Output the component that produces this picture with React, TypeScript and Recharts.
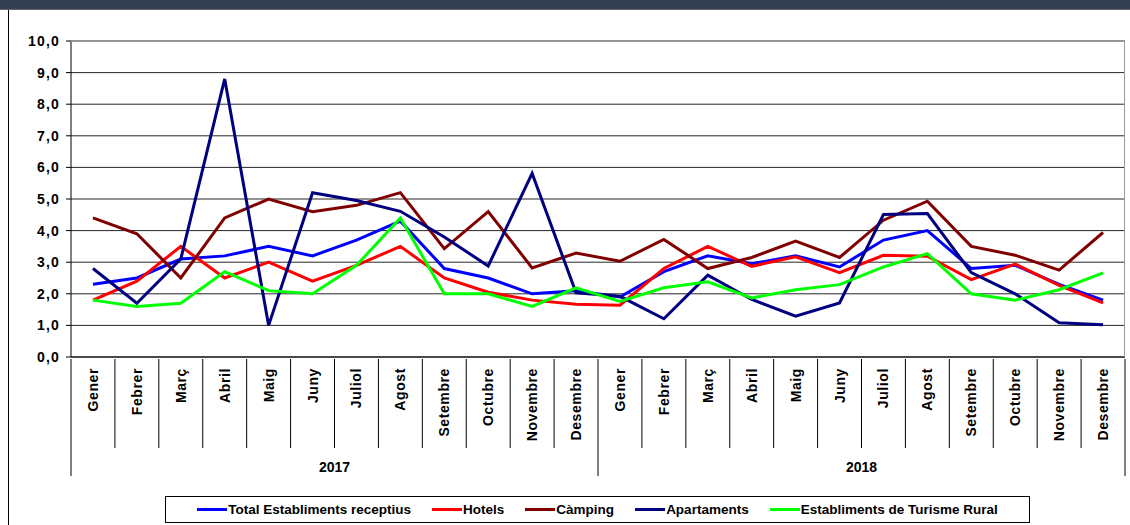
import { LineChart, Line, XAxis, YAxis, CartesianGrid } from "recharts"

const months = [
  "Gener", "Febrer", "Març", "Abril", "Maig", "Juny",
  "Juliol", "Agost", "Setembre", "Octubre", "Novembre", "Desembre",
]
const years = ["2017", "2018"]

const total = [2.3, 2.5, 3.1, 3.2, 3.5, 3.2, 3.7, 4.3, 2.8, 2.5, 2.0, 2.1, 1.9, 2.7, 3.2, 2.95, 3.2, 2.85, 3.7, 4.0, 2.8, 2.9, 2.3, 1.8]
const hotels = [1.8, 2.4, 3.5, 2.5, 3.0, 2.4, 2.9, 3.5, 2.5, 2.05, 1.8, 1.67, 1.64, 2.8, 3.5, 2.87, 3.17, 2.67, 3.22, 3.19, 2.45, 2.94, 2.27, 1.71]
const camping = [4.4, 3.9, 2.5, 4.4, 5.0, 4.6, 4.8, 5.2, 3.43, 4.6, 2.82, 3.29, 3.03, 3.72, 2.8, 3.15, 3.67, 3.15, 4.33, 4.93, 3.5, 3.22, 2.75, 3.94]
const apartaments = [2.8, 1.7, 3.1, 8.8, 1.0, 5.2, 4.95, 4.61, 3.8, 2.88, 5.81, 2.03, 1.92, 1.21, 2.59, 1.82, 1.29, 1.71, 4.51, 4.54, 2.67, 2.0, 1.08, 1.02]
const rural = [1.8, 1.6, 1.7, 2.7, 2.1, 2.0, 2.9, 4.4, 2.0, 2.0, 1.6, 2.19, 1.76, 2.19, 2.38, 1.87, 2.13, 2.29, 2.85, 3.27, 2.0, 1.8, 2.13, 2.66]

const yTicks = [0, 1, 2, 3, 4, 5, 6, 7, 8, 9, 10]

const series = [
  { key: "total", name: "Total Establiments receptius", color: "#0000FF", values: total },
  { key: "hotels", name: "Hotels", color: "#FF0000", values: hotels },
  { key: "camping", name: "Càmping", color: "#800000", values: camping },
  { key: "apart", name: "Apartaments", color: "#000080", values: apartaments },
  { key: "rural", name: "Establiments de Turisme Rural", color: "#00FF00", values: rural },
]

const data = years.flatMap((yr, yi) =>
  months.map((m, mi) => {
    const i = yi * months.length + mi
    const row: Record<string, string | number> = { key: `${yr}-${m}`, month: m, year: yr }
    series.forEach((s) => (row[s.key] = s.values[i]))
    return row
  })
)

const W = 1130
const H = 525
const PLOT_LEFT = 71
const PLOT_RIGHT = 1125
const PLOT_TOP = 41
const PLOT_BOTTOM = 357
const BAND = (PLOT_RIGHT - PLOT_LEFT) / data.length
const FONT = "'Liberation Sans', Arial, sans-serif"

function MonthTick(props: any) {
  const { x, y, payload } = props
  const idx = payload.index
  const h = 89
  return (
    <g>
      <line x1={x - BAND / 2} y1={y} x2={x - BAND / 2} y2={y + h} stroke="#000" />
      {idx === data.length - 1 && (
        <line x1={x + BAND / 2} y1={y} x2={x + BAND / 2} y2={y + h} stroke="#000" />
      )}
      <text
        x={x + 5}
        y={y + 9}
        transform={`rotate(-90, ${x + 5}, ${y + 9})`}
        textAnchor="end"
        fontFamily={FONT}
        fontWeight="bold"
        fontSize={14}
        letterSpacing={0.6}
        fill="#000"
      >
        {data[idx]?.month}
      </text>
    </g>
  )
}

function YearTick(props: any) {
  const { x, y, payload } = props
  const idx = payload.index
  const per = months.length
  const pos = idx % per
  return (
    <g>
      {pos === 0 && <line x1={x - BAND / 2} y1={y} x2={x - BAND / 2} y2={y + 28} stroke="#000" />}
      {idx === data.length - 1 && (
        <line x1={x + BAND / 2} y1={y} x2={x + BAND / 2} y2={y + 28} stroke="#000" />
      )}
      {pos === per / 2 - 1 && (
        <text
          x={x + BAND / 2}
          y={y + 24}
          textAnchor="middle"
          fontFamily={FONT}
          fontWeight="bold"
          fontSize={14}
          fill="#000"
        >
          {data[idx]?.year}
        </text>
      )}
    </g>
  )
}

export default function App() {
  return (
    <div style={{ position: "absolute", left: 0, top: 0, width: W, height: H, background: "#fff", overflow: "hidden" }}>
      <div style={{ position: "absolute", left: 0, top: 0, width: W, height: 9, background: "#333e51", borderBottom: "1px solid #666" }} />
      <div style={{ position: "absolute", left: 8, top: 10, width: 1, height: H - 10, background: "#000" }} />

      <div style={{ position: "absolute", left: 0, top: 0 }}>
        <LineChart
          width={W}
          height={H}
          data={data}
          margin={{ top: PLOT_TOP, right: W - PLOT_RIGHT, left: 11, bottom: H - PLOT_BOTTOM - 89 - 30 }}
        >
          <CartesianGrid vertical={false} stroke="#000" strokeOpacity={0.85} />
          <XAxis
            dataKey="key"
            interval={0}
            tickSize={0}
            tickLine={false}
            axisLine={{ stroke: "#000" }}
            height={89}
            padding={{ left: BAND / 2, right: BAND / 2 }}
            tick={<MonthTick />}
          />
          <XAxis
            xAxisId="year"
            dataKey="key"
            interval={0}
            tickSize={0}
            tickLine={false}
            axisLine={false}
            height={30}
            padding={{ left: BAND / 2, right: BAND / 2 }}
            tick={<YearTick />}
          />
          <YAxis
            domain={[0, 10]}
            ticks={yTicks}
            interval={0}
            width={60}
            tickSize={5}
            tickMargin={6}
            axisLine={{ stroke: "#000" }}
            tickLine={{ stroke: "#000" }}
            tickFormatter={(v: number) => v.toFixed(1).replace(".", ",")}
            tick={{ fontFamily: FONT, fontWeight: "bold", fontSize: 14, letterSpacing: 1.2, fill: "#000" }}
          />
          {series.map((s) => (
            <Line
              key={s.key}
              type="linear"
              dataKey={s.key}
              name={s.name}
              stroke={s.color}
              strokeWidth={3}
              dot={false}
              isAnimationActive={false}
            />
          ))}
        </LineChart>
      </div>

      <div
        style={{
          position: "absolute",
          left: PLOT_LEFT,
          top: PLOT_TOP,
          width: PLOT_RIGHT - PLOT_LEFT,
          height: PLOT_BOTTOM - PLOT_TOP,
          borderTop: "1px solid #999",
          borderRight: "1px solid #999",
          boxSizing: "border-box",
          pointerEvents: "none",
        }}
      />

      <div
        style={{
          position: "absolute",
          left: 165,
          top: 496,
          width: 865,
          height: 27,
          border: "1px solid #000",
          boxSizing: "border-box",
          display: "flex",
          alignItems: "center",
          justifyContent: "center",
          gap: 21,
          fontFamily: FONT,
          fontWeight: "bold",
          fontSize: 13.5,
          color: "#000",
        }}
      >
        {series.map((s) => (
          <div key={s.key} style={{ display: "flex", alignItems: "center" }}>
            <div style={{ width: 30, height: 3, background: s.color, marginRight: 1 }} />
            <span>{s.name}</span>
          </div>
        ))}
      </div>
    </div>
  )
}
